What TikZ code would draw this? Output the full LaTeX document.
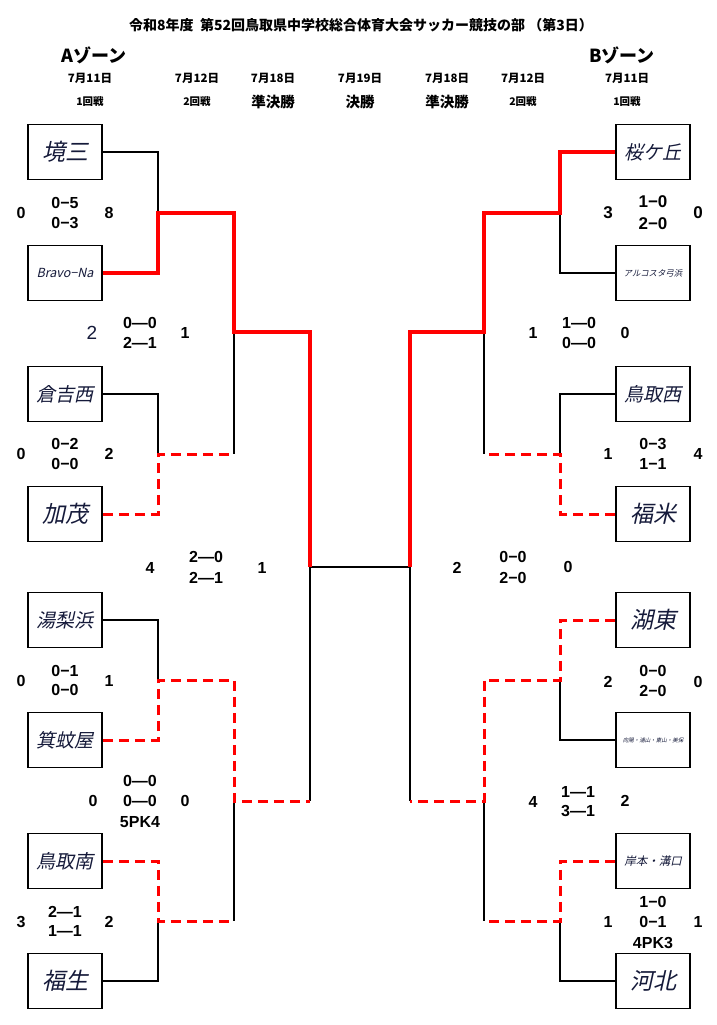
\documentclass[tikz,border=0pt]{standalone}
\usepackage{fontspec}
\setmainfont{Liberation Sans}
\newfontfamily\jp{Noto Sans CJK JP}
\newfontfamily\jpi{Noto Sans CJK JP}[FakeSlant=0.22]
\definecolor{teamc}{HTML}{151A3A}
\definecolor{rd}{HTML}{FF0000}
\begin{document}
\begin{tikzpicture}[x=1pt,y=-1pt,
  box/.style={draw,line width=1.8pt,minimum width=74pt,minimum height=55pt,inner sep=0pt,text=teamc},
  tbig/.style={font=\jpi\fontsize{23}{23}\selectfont},
  tmid/.style={font=\jpi\fontsize{19}{19}\selectfont},
  sc/.style={font=\bfseries\fontsize{16}{16}\selectfont,inner sep=0pt},
  scl/.style={font=\bfseries\fontsize{17}{17}\selectfont,inner sep=0pt},
  hdate/.style={font=\jp\bfseries\fontsize{11.5}{11.5}\selectfont,inner sep=0pt},
  hround/.style={font=\jp\bfseries\fontsize{10.5}{10.5}\selectfont,inner sep=0pt},
  hround2/.style={font=\jp\bfseries\fontsize{14.5}{14.5}\selectfont,inner sep=0pt},
  conn/.style={line width=1.7pt},
  win/.style={draw=rd,line width=3.6pt},
  winp/.style={draw=rd,line width=3pt,dash pattern=on 10pt off 6pt}]
\useasboundingbox (0,0) rectangle (717,1025);
\fill[white] (0,0) rectangle (717,1025);
% header
\node[font=\jp\bfseries\fontsize{14}{14}\selectfont,inner sep=0pt] (title) at (361,25) {令和8年度\ \ 第52回鳥取県中学校総合体育大会サッカー競技の部\ （第3日）};
\node[font=\jp\bfseries\fontsize{18}{18}\selectfont,inner sep=0pt] (zA) at (94,55) {Aゾーン};
\node[font=\jp\bfseries\fontsize{18}{18}\selectfont,inner sep=0pt] (zB) at (622,55) {Bゾーン};
\node[hdate] (d1) at (90,78) {7月11日};
\node[hdate] (d2) at (197,78) {7月12日};
\node[hdate] (d3) at (273,78) {7月18日};
\node[hdate] (d4) at (360,78) {7月19日};
\node[hdate] (d5) at (447,78) {7月18日};
\node[hdate] (d6) at (523,78) {7月12日};
\node[hdate] (d7) at (627,78) {7月11日};
\node[hround] (r1) at (90,102) {1回戦};
\node[hround] (r2) at (197,102) {2回戦};
\node[hround2] (r3) at (273,102) {準決勝};
\node[hround2] (r4) at (360,102) {決勝};
\node[hround2] (r5) at (447,102) {準決勝};
\node[hround] (r6) at (523,102) {2回戦};
\node[hround] (r7) at (627,102) {1回戦};
% left boxes
\node[box,tbig] (L1) at (65,152) {境三};
\node[box,font=\jpi\fontsize{12.5}{12.5}\selectfont] (L2) at (65,273) {Bravo−Na};
\node[box,tmid] (L3) at (65,394) {倉吉西};
\node[box,tbig] (L4) at (65,514) {加茂};
\node[box,tmid] (L5) at (65,620) {湯梨浜};
\node[box,tmid] (L6) at (65,740) {箕蚊屋};
\node[box,tmid] (L7) at (65,861) {鳥取南};
\node[box,tbig] (L8) at (65,981) {福生};
% right boxes
\node[box,tmid] (R1) at (653,152) {桜ケ丘};
\node[box,font=\jpi\fontsize{8.4}{8.4}\selectfont] (R2) at (653,273) {アルコスタ弓浜};
\node[box,tmid] (R3) at (653,394) {鳥取西};
\node[box,tbig] (R4) at (653,514) {福米};
\node[box,tbig] (R5) at (653,620) {湖東};
\node[box,font=\jpi\fontsize{5.5}{5.5}\selectfont] (R6) at (653,740) {向陽・浦山・東山・美保};
\node[box,font=\jpi\fontsize{11.5}{11.5}\selectfont] (R7) at (653,861) {岸本・溝口};
\node[box,tbig] (R8) at (653,981) {河北};
% junctions
\coordinate (jL1) at (158,213);
\coordinate (jL2) at (158,454);
\coordinate (jL3) at (158,680);
\coordinate (jL4) at (158,921);
\coordinate (kL1) at (234,332);
\coordinate (kL2) at (234,801);
\coordinate (F) at (310,567);
\coordinate (FR) at (410,567);
\coordinate (jR1) at (560,213);
\coordinate (jR2) at (560,454);
\coordinate (jR3) at (560,680);
\coordinate (jR4) at (560,921);
\coordinate (kR1) at (484,332);
\coordinate (kR2) at (484,801);
% black connectors
\draw[conn] (L1.east) -| (jL1);
\draw[conn] (L3.east) -| (jL2);
\draw[conn] (kL1) -- (kL1 |- jL2);
\draw[conn] (L5.east) -| (jL3);
\draw[conn] (F |- kL2) -- (F);
\draw[conn] (kL2) -- (kL2 |- jL4);
\draw[conn] (L8.east) -| (jL4);
\draw[conn] (F) -- (FR);
\draw[conn] (R2.west) -| (jR1);
\draw[conn] (kR1) -- (kR1 |- jR2);
\draw[conn] (R3.west) -| (jR2);
\draw[conn] (R6.west) -| (jR3);
\draw[conn] (FR |- kR2) -- (FR);
\draw[conn] (kR2) -- (kR2 |- jR4);
\draw[conn] (R8.west) -| (jR4);
% red winners
\draw[win] (L2.east) -| (jL1) -| (kL1) -| (F);
\draw[win] (R1.west) -| (jR1) -| (kR1) -| (FR);
\draw[winp] (L4.east) -| (jL2) -- (kL1 |- jL2);
\draw[winp] (L6.east) -| (jL3) -| (kL2) -- (F |- kL2);
\draw[winp] (L7.east) -| (jL4) -- (kL2 |- jL4);
\draw[winp] (R4.west) -| (jR2) -- (kR1 |- jR2);
\draw[winp] (R5.west) -| (jR3) -| (kR2) -- (FR |- kR2);
\draw[winp] (R7.west) -| (jR4) -- (kR2 |- jR4);
% left scores
\node[sc] (a1l) at (21,213) {0};
\node[sc] (a1a) at (65,203) {0−5};
\node[sc] (a1b) at (65,223) {0−3};
\node[sc] (a1r) at (109,213) {8};
\node[font=\fontsize{19}{19}\selectfont,text=teamc,inner sep=0pt] (b1l) at (92,333) {2};
\node[sc] (b1a) at (140,323) {0—0};
\node[sc] (b1b) at (140,343) {2—1};
\node[sc] (b1r) at (185,333) {1};
\node[sc] (a2l) at (21,454) {0};
\node[sc] (a2a) at (65,444) {0−2};
\node[sc] (a2b) at (65,464) {0−0};
\node[sc] (a2r) at (109,454) {2};
\node[sc] (c1l) at (150,568) {4};
\node[sc] (c1a) at (206,557) {2—0};
\node[sc] (c1b) at (206,578) {2—1};
\node[sc] (c1r) at (262,568) {1};
\node[sc] (a3l) at (21,681) {0};
\node[sc] (a3a) at (65,671) {0−1};
\node[sc] (a3b) at (65,690) {0−0};
\node[sc] (a3r) at (109,681) {1};
\node[sc] (b2t) at (140,781) {0—0};
\node[sc] (b2l) at (93,801) {0};
\node[sc] (b2a) at (140,801) {0—0};
\node[sc] (b2r) at (185,801) {0};
\node[sc] (b2p) at (140,822) {5PK4};
\node[sc] (a4l) at (21,922) {3};
\node[sc] (a4a) at (65,912) {2—1};
\node[sc] (a4b) at (65,931) {1—1};
\node[sc] (a4r) at (109,922) {2};
% right scores
\node[scl] (e1l) at (608,213) {3};
\node[scl] (e1a) at (653,202) {1−0};
\node[scl] (e1b) at (653,224) {2−0};
\node[scl] (e1r) at (698,213) {0};
\node[sc] (f1l) at (533,333) {1};
\node[sc] (f1a) at (579,323) {1—0};
\node[sc] (f1b) at (579,343) {0—0};
\node[sc] (f1r) at (625,333) {0};
\node[sc] (e2l) at (608,454) {1};
\node[sc] (e2a) at (653,444) {0−3};
\node[sc] (e2b) at (653,464) {1−1};
\node[sc] (e2r) at (698,454) {4};
\node[sc] (g1l) at (457,568) {2};
\node[sc] (g1a) at (513,557) {0−0};
\node[sc] (g1b) at (513,578) {2−0};
\node[sc] (g1r) at (568,567) {0};
\node[sc] (e3l) at (608,682) {2};
\node[sc] (e3a) at (653,671) {0−0};
\node[sc] (e3b) at (653,691) {2−0};
\node[sc] (e3r) at (698,682) {0};
\node[sc] (f2l) at (533,802) {4};
\node[sc] (f2a) at (578,792) {1—1};
\node[sc] (f2b) at (578,811) {3—1};
\node[sc] (f2r) at (625,801) {2};
\node[sc] (e4t) at (653,902) {1−0};
\node[sc] (e4l) at (608,922) {1};
\node[sc] (e4a) at (653,922) {0−1};
\node[sc] (e4r) at (698,922) {1};
\node[sc] (e4p) at (653,943) {4PK3};
\end{tikzpicture}
\end{document}
